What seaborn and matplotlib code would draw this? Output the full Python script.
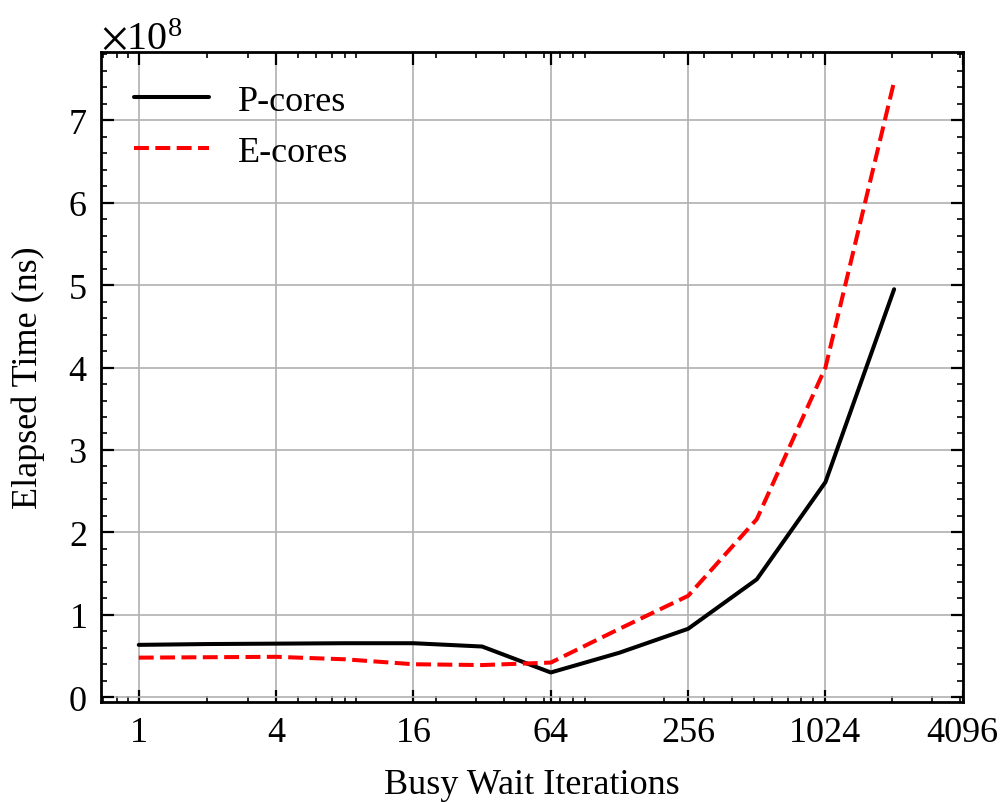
import matplotlib
matplotlib.use("Agg")
import matplotlib.pyplot as plt
import matplotlib.ticker as mticker
import numpy as np
import pandas as pd
import seaborn as sns

# Data
iterations = [1, 2, 4, 8, 16, 32, 64, 128, 256, 512, 1024, 2048]
p_cores = [0.635e8, 0.645e8, 0.65e8, 0.655e8, 0.655e8, 0.615e8, 0.30e8,
           0.54e8, 0.83e8, 1.43e8, 2.61e8, 4.95e8]
e_cores = [0.48e8, 0.485e8, 0.49e8, 0.46e8, 0.40e8, 0.39e8, 0.42e8,
           0.83e8, 1.23e8, 2.16e8, 4.0e8, 7.47e8]
series_names = ["P-cores", "E-cores"]
xtick_values = [1, 4, 16, 64, 256, 1024, 4096]

df = pd.DataFrame({
    "x": iterations * 2,
    "y": p_cores + e_cores,
    "series": [series_names[0]] * len(iterations) + [series_names[1]] * len(iterations),
})

sns.set_style("ticks")
plt.rcParams["font.family"] = ["Liberation Serif", "DejaVu Serif"]
plt.rcParams["mathtext.fontset"] = "stix"
plt.rcParams["font.size"] = 26
plt.rcParams["lines.linewidth"] = 2.9
for k in ["text.color", "axes.labelcolor", "xtick.color", "ytick.color", "axes.edgecolor"]:
    plt.rcParams[k] = "black"

fig = plt.figure(figsize=(10.05, 8.03), dpi=100)
ax = fig.add_axes([0.1005, 0.1245, 0.8575, 0.8095])

sns.lineplot(data=df, x="x", y="y", hue="series", style="series",
             palette={"P-cores": "black", "E-cores": "red"},
             dashes={"P-cores": "", "E-cores": (3.7, 1.6)},
             linewidth=2.9, ax=ax, legend=True)
for ln in ax.lines:
    ln.set_linewidth(2.9)

ax.set_xscale("log")
ax.set_xticks(xtick_values)
ax.xaxis.set_major_formatter(mticker.FixedFormatter([str(v) for v in xtick_values]))
ax.xaxis.set_minor_formatter(mticker.NullFormatter())
ax.xaxis.set_minor_locator(mticker.LogLocator(base=10, subs=np.arange(2, 10)))

fmt = mticker.ScalarFormatter(useMathText=True)
fmt.set_powerlimits((0, 0))
ax.yaxis.set_major_formatter(fmt)
ax.yaxis.set_minor_locator(mticker.AutoMinorLocator(5))

ax.set_xlabel("Busy Wait Iterations", fontsize=26, labelpad=14)
ax.set_ylabel("Elapsed Time (ns)", fontsize=26, labelpad=16)

ax.grid(True, which="major", color="#b0b0b0", linewidth=1.2)
ax.set_axisbelow(True)

for s in ax.spines.values():
    s.set_linewidth(2.0)
    s.set_color("black")

ax.tick_params(which="both", direction="in", top=True, right=True, labelsize=26)
ax.tick_params(which="major", length=9, width=1.6, pad=10)
ax.tick_params(which="minor", length=4.5, width=1.2)
ax.yaxis.get_offset_text().set_fontsize(29)

leg = ax.legend(frameon=False, loc="upper left", fontsize=26, handlelength=2.1)
for ln in leg.get_lines():
    ln.set_linewidth(2.9)

fig.savefig("out.png", dpi=100)
